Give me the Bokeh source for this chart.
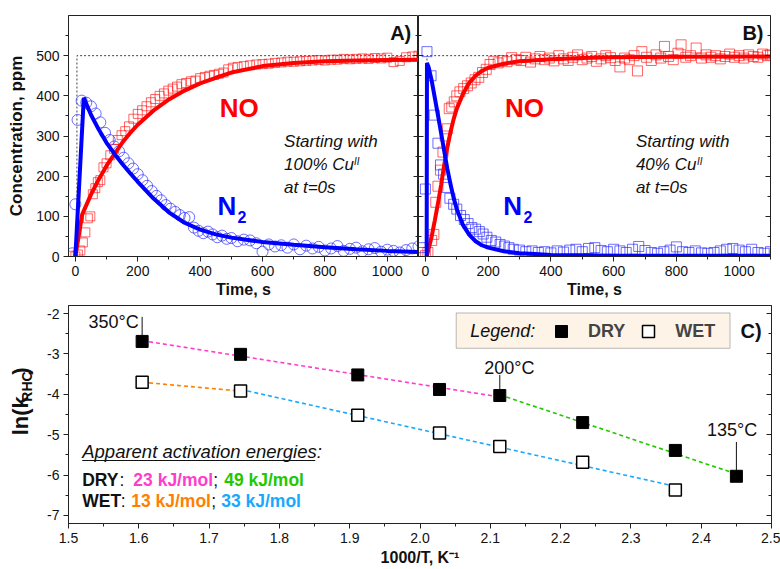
import numpy as np
from bokeh.plotting import figure
from bokeh.layouts import column, row
from bokeh.models import (Label, BoxAnnotation, Legend, LegendItem, LinearAxis, FixedTicker,
                          SingleIntervalTicker, PrintfTickFormatter, CustomJSTickFormatter, Range1d)
from bokeh.embed import file_html
from bokeh.resources import INLINE

FONT = "Liberation Sans"

# ---------------- Panel A data (100% Cu(II) at t=0) ----------------
a_no_t = [-10, 0, 8, 16, 24, 32, 40, 48, 56, 64, 72, 80, 90, 100, 112, 124, 136, 148, 160, 172,
          186, 200, 214, 228, 242, 256, 270, 284, 298, 312, 326, 340, 355, 370, 385, 400, 415, 430, 445, 460,
          475, 490, 505, 520, 540, 560, 580, 600, 620, 640, 660, 680, 700, 720, 740, 760, 780, 800, 820, 840,
          860, 880, 900, 920, 940, 960, 980, 1000, 1020, 1040, 1060, 1080, 1100]
a_no_v = [2, 0, 5, 15, 35, 60, 95, 100, 155, 170, 185, 190, 222, 232, 252, 268, 290, 302, 312, 324,
          343, 355, 364, 374, 384, 392, 400, 406, 413, 418, 423, 429, 432, 436, 438, 444, 447, 450, 452, 455,
          458, 466, 470, 472, 474, 476, 478, 479, 480, 482, 483, 485, 485, 486, 487, 488, 489, 488, 490, 490,
          492, 491, 492, 493, 492, 494, 493, 495, 484, 487, 496, 498, 500]
a_n2_t = [-10, 0, 7, 20, 35, 50, 65, 80, 95, 110, 125, 140, 155, 170, 185, 200, 215, 230, 245, 260,
          275, 290, 305, 320, 335, 350, 365, 380, 395, 410, 425, 440, 455, 470, 485, 500, 520, 540, 560, 580,
          600, 620, 640, 660, 680, 700, 720, 740, 760, 780, 800, 820, 840, 860, 880, 900, 920, 940, 960, 980,
          1000, 1020, 1040, 1060, 1080, 1100]
a_n2_v = [8, 130, 340, 388, 383, 374, 356, 334, 308, 290, 274, 262, 246, 232, 219, 205, 190, 176, 163, 151,
          140, 128, 119, 111, 103, 96, 98, 72, 64, 58, 62, 55, 48, 52, 44, 46, 38, 42, 40, 33,
          12, 30, 25, 28, 22, 30, 18, 27, 20, 24, 15, 20, 26, 14, 19, 22, 13, 18, 21, 12,
          17, 14, 10, 16, 20, 25]
a_no_fit_t = [0, 22, 50, 75, 100, 125, 150, 175, 200, 250, 300, 350, 400, 450, 500, 600, 700, 800, 900, 1000, 1100]
a_no_fit_v = [0, 105, 154, 192, 226, 255, 283, 307, 328, 363, 391, 413, 431, 445, 458, 474, 482, 486, 488, 489, 490]
a_n2_fit_t = [0, 27, 50, 75, 100, 125, 150, 175, 200, 250, 300, 350, 400, 450, 500, 600, 700, 800, 900, 1000, 1100]
a_n2_fit_v = [0, 395, 353, 316, 283, 256, 231, 208, 186, 145, 110, 84, 67, 55, 47, 36, 29, 23, 18, 14, 11]

# ---------------- Panel B data (40% Cu(II) at t=0) ----------------
b_no_t = [0, 8, 20, 27, 33, 40, 48, 56, 63, 70, 76, 84, 92, 100, 110, 122, 134, 146, 158, 170,
          182, 194, 206, 218, 232, 246, 260, 275, 290, 305, 320, 335, 350, 365, 380, 395, 410, 425, 440, 455,
          470, 485, 500, 515, 530, 545, 560, 575, 590, 605, 620, 635, 650, 665, 676, 690, 705, 720, 735, 750,
          762, 775, 790, 805, 815, 830, 845, 863, 880, 895, 910, 925, 940, 955, 970, 985, 1000, 1015, 1030, 1045,
          1060, 1075, 1090, 1100]
b_no_v = [2, 10, 40, 55, 135, 175, 215, 260, 300, 318, 368, 372, 385, 400, 410, 418, 425, 432, 440, 446,
          458, 466, 478, 486, 482, 488, 485, 495, 490, 488, 496, 484, 492, 498, 490, 494, 487, 500, 492, 488,
          496, 502, 490, 494, 498, 486, 492, 500, 495, 488, 472, 494, 490, 500, 462, 510, 496, 488, 502, 494,
          523, 498, 490, 506, 527, 496, 500, 519, 494, 502, 496, 500, 492, 498, 504, 496, 500, 494, 502, 498,
          496, 504, 500, 502]
b_n2_t = [-16, -8, 0, 5, 18, 28, 40, 48, 58, 68, 78, 90, 100, 112, 124, 136, 148, 160, 172, 184,
          196, 210, 224, 238, 252, 266, 280, 300, 320, 340, 360, 380, 400, 420, 440, 460, 480, 500, 520, 540,
          560, 580, 600, 620, 640, 660, 680, 700, 720, 740, 760, 780, 800, 820, 840, 860, 880, 900, 920, 940,
          960, 980, 1000, 1020, 1040, 1060, 1080, 1100]
b_n2_v = [22, 10, 168, 510, 450, 352, 282, 228, 205, 172, 145, 130, 118, 102, 92, 82, 72, 68, 62, 56,
          48, 40, 36, 30, 26, 22, 18, 16, 12, 14, 10, 12, 9, 14, 11, 16, 18, 12, 20, 22,
          15, 12, 18, 14, 10, 18, 25, 15, 10, 8, 12, 16, 24, 12, 10, 14, 9, 8, 10, 14,
          18, 20, 16, 12, 18, 10, 8, 12]
b_no_fit_t = [4, 10, 20, 30, 40, 50, 60, 70, 80, 90, 100, 120, 140, 160, 180, 200, 250, 300, 400, 500, 600, 800, 1100]
b_no_fit_v = [0, 18, 50, 90, 132, 178, 228, 272, 310, 342, 368, 405, 433, 450, 462, 470, 480, 486, 491, 494, 496, 497, 498]
b_n2_fit_t = [4, 5, 10, 20, 30, 40, 50, 60, 70, 80, 90, 100, 120, 140, 160, 180, 200, 250, 300, 350, 400, 500, 600, 800, 1100]
b_n2_fit_v = [0, 482, 472, 438, 395, 352, 308, 262, 218, 180, 146, 118, 78, 54, 38, 28, 22, 13, 8, 6, 4, 3, 2, 2, 2]

feed_ppm = 500      # NO feed level (dotted reference)
feed_step_t = 5     # time of feed switch (s)
conc_ticks = [0, 100, 200, 300, 400, 500]
conc_minor = [50, 150, 250, 350, 450, 550]

# ---------------- Panel C data (Arrhenius) ----------------
temps_dry_C = [350, 300, 250, 220, 200, 175, 150, 135]
lnk_dry = [-2.69, -3.01, -3.52, -3.88, -4.03, -4.70, -5.39, -6.03]
temps_wet_C = [350, 300, 250, 220, 200, 175, 150]
lnk_wet = [-3.70, -3.92, -4.52, -4.96, -5.29, -5.68, -6.37]

inv_dry = [1000.0 / (t + 273.15) for t in temps_dry_C]
inv_wet = [1000.0 / (t + 273.15) for t in temps_wet_C]

RED = "#ff0000"
BLUE = "#0000ff"
AX = "#222222"
BLANK = CustomJSTickFormatter(code="return ''")


def style_axis(ax, label_px="16px", tick_px="14px"):
    ax.axis_line_color = AX
    ax.major_tick_line_color = AX
    ax.minor_tick_line_color = AX
    ax.major_label_text_font = FONT
    ax.major_label_text_font_size = tick_px
    ax.major_label_text_color = "#111111"
    ax.axis_label_text_font = FONT
    ax.axis_label_text_font_style = "bold"
    ax.axis_label_text_font_size = label_px
    ax.axis_label_text_color = "#111111"
    ax.major_tick_out = 5
    ax.major_tick_in = 0
    ax.minor_tick_out = 3
    ax.minor_tick_in = 0
    ax.major_label_standoff = 4


def inner_style(ax):
    ax.axis_line_color = AX
    ax.major_tick_line_color = AX
    ax.minor_tick_line_color = AX
    ax.formatter = BLANK
    ax.major_label_standoff = 0
    ax.major_tick_in = 5
    ax.major_tick_out = 0
    ax.minor_tick_in = 3
    ax.minor_tick_out = 0
    ax.axis_label = None


def txt(p, x, y, text, size, color="#111111", style="normal", align="left", baseline="middle", angle=0.0):
    p.add_layout(Label(x=x, y=y, text=text, text_font=FONT, text_font_size=f"{size}px",
                       text_color=color, text_font_style=style, text_align=align,
                       text_baseline=baseline, angle=angle))


def make_fig(width, left, right):
    p = figure(width=width, height=300, x_range=Range1d(-22, 1100), y_range=Range1d(0, 600),
               output_backend="svg", toolbar_location=None,
               min_border_left=left, min_border_right=right, min_border_top=15, min_border_bottom=40)
    p.xgrid.visible = False
    p.ygrid.visible = False
    p.outline_line_color = AX
    p.xaxis.ticker = SingleIntervalTicker(interval=200, num_minor_ticks=2)
    p.yaxis.ticker = FixedTicker(ticks=conc_ticks, minor_ticks=conc_minor)
    style_axis(p.xaxis[0])
    style_axis(p.yaxis[0], label_px="17px")
    p.xaxis.axis_label = "Time, s"
    p.xaxis.axis_label_standoff = 2
    ra = LinearAxis(ticker=FixedTicker(ticks=conc_ticks, minor_ticks=conc_minor))
    inner_style(ra)
    p.add_layout(ra, "right")
    return p


# ---------------- Panel A ----------------
pA = make_fig(418, 68, 0)
pA.yaxis[0].axis_label = "Concentration, ppm"
pA.yaxis[0].axis_label_standoff = 7
pA.line([feed_step_t, feed_step_t, 1100], [0, feed_ppm, feed_ppm], line_color="#444444",
        line_dash="2 2", line_width=1)
pA.scatter(a_no_t, a_no_v, marker="square", size=9, fill_alpha=0, line_color=RED, line_alpha=0.6, line_width=1)
pA.scatter(a_n2_t, a_n2_v, marker="circle", size=11, fill_alpha=0, line_color="#2020ff", line_alpha=0.65, line_width=1)
pA.line(a_no_fit_t, a_no_fit_v, line_color=RED, line_width=4)
pA.line(a_n2_fit_t, a_n2_fit_v, line_color=BLUE, line_width=4)
txt(pA, 525, 370, "NO", 26, RED, "bold", "center")
txt(pA, 486, 125, "N", 26, BLUE, "bold", "center")
txt(pA, 534, 98, "2", 16, BLUE, "bold", "center")
txt(pA, 669, 287, "Starting with", 17, style="italic")
txt(pA, 669, 228, "100% Cu", 17, style="italic")
txt(pA, 893, 237, "II", 10, style="italic")
txt(pA, 669, 172, "at t=0s", 17, style="italic")
txt(pA, 1043, 556, "A)", 20, style="bold", align="center")

# ---------------- Panel B ----------------
pB = make_fig(362, 0, 10)
inner_style(pB.yaxis[0])
pB.line([feed_step_t, feed_step_t, 1100], [0, feed_ppm, feed_ppm], line_color="#444444",
        line_dash="2 2", line_width=1)
pB.scatter(b_no_t, b_no_v, marker="square", size=10, fill_alpha=0, line_color=RED, line_alpha=0.6, line_width=1)
pB.scatter(b_n2_t, b_n2_v, marker="square", size=10, fill_alpha=0, line_color="#2020ff", line_alpha=0.65, line_width=1)
pB.line(b_no_fit_t, b_no_fit_v, line_color=RED, line_width=4)
pB.line(b_n2_fit_t, b_n2_fit_v, line_color=BLUE, line_width=4)
txt(pB, 316, 370, "NO", 26, RED, "bold", "center")
txt(pB, 278, 125, "N", 26, BLUE, "bold", "center")
txt(pB, 327, 98, "2", 16, BLUE, "bold", "center")
txt(pB, 671, 287, "Starting with", 17, style="italic")
txt(pB, 671, 228, "40% Cu", 17, style="italic")
txt(pB, 866, 237, "II", 10, style="italic")
txt(pB, 671, 172, "at t=0s", 17, style="italic")
txt(pB, 1044, 556, "B)", 20, style="bold", align="center")

# ---------------- Panel C y-label strip ----------------
pL = figure(width=40, height=269, x_range=Range1d(0, 40), y_range=Range1d(0, 269),
            output_backend="svg", toolbar_location=None, x_axis_location=None, y_axis_location=None,
            min_border_left=0, min_border_right=0, min_border_top=0, min_border_bottom=0)
pL.xgrid.visible = False
pL.ygrid.visible = False
pL.outline_line_color = None
ang = np.pi / 2
txt(pL, 20, 133, "ln(k", 22, style="bold", align="center", angle=ang)
txt(pL, 26, 169, "RHC", 14, style="bold", align="center", angle=ang)
txt(pL, 20, 188, ")", 22, style="bold", align="center", angle=ang)

# ---------------- Panel C ----------------
pC = figure(width=740, height=269, x_range=Range1d(1.5, 2.5), y_range=Range1d(-7.2, -1.8),
            output_backend="svg", toolbar_location=None,
            min_border_left=28, min_border_right=9, min_border_top=5, min_border_bottom=46)
pC.xgrid.visible = False
pC.ygrid.visible = False
pC.outline_line_color = AX
pC.xaxis.ticker = SingleIntervalTicker(interval=0.1, num_minor_ticks=2)
pC.xaxis.formatter = PrintfTickFormatter(format="%.1f")
pC.yaxis.ticker = SingleIntervalTicker(interval=1, num_minor_ticks=2)
pC.yaxis.formatter = PrintfTickFormatter(format="%d")
style_axis(pC.xaxis[0], label_px="16px")
style_axis(pC.yaxis[0])
pC.xaxis.axis_label = "1000/T, K\u207b\u00b9"
pC.xaxis.axis_label_standoff = 3
rC = LinearAxis(ticker=SingleIntervalTicker(interval=1, num_minor_ticks=2))
inner_style(rC)
pC.add_layout(rC, "right")


def fit_line(xs, ys, color):
    k, b = np.polyfit(xs, ys, 1)
    xx = np.array([xs[0], xs[-1]])
    pC.line(xx, k * xx + b, line_color=color, line_width=1.6, line_dash="4 3")


PINK, GREEN, ORANGE, CYAN = "#ff3dcc", "#22c800", "#ff8000", "#1aa8ff"
fit_line(inv_dry[0:5], lnk_dry[0:5], PINK)
fit_line(inv_dry[4:8], lnk_dry[4:8], GREEN)
fit_line(inv_wet[0:2], lnk_wet[0:2], ORANGE)
fit_line(inv_wet[1:7], lnk_wet[1:7], CYAN)

# leader lines for temperature labels
lead_idx = [0, 4, 7]
lead_top = [-2.08, -3.52, -5.18]
pC.segment(x0=[inv_dry[i] for i in lead_idx], y0=[lnk_dry[i] for i in lead_idx],
           x1=[inv_dry[i] for i in lead_idx], y1=lead_top, line_color="#111111", line_width=1)

r_dry = pC.scatter(inv_dry, lnk_dry, marker="square", size=12, fill_color="#000000", line_color="#000000", line_width=1)
r_wet = pC.scatter(inv_wet, lnk_wet, marker="square", size=12, fill_color="#ffffff", line_color="#000000", line_width=1.5)

txt(pC, 1.600, -2.21, "350\u00b0C", 18, align="right")
txt(pC, 2.127, -3.34, "200\u00b0C", 18, align="center")
txt(pC, 2.444, -4.89, "135\u00b0C", 18, align="center")

# legend box
pC.add_layout(BoxAnnotation(left=2.0515, right=2.441, top=-1.985, bottom=-2.86,
                            fill_color="#fdf3e7", fill_alpha=1.0, line_color=AX, line_width=1))
txt(pC, 2.0714, -2.43, "Legend:", 18, style="italic")
legend = Legend(items=[LegendItem(label="DRY", renderers=[r_dry]), LegendItem(label="WET", renderers=[r_wet])],
                orientation="horizontal", location=(478, 177), glyph_width=30, glyph_height=30,
                label_standoff=12, spacing=8, padding=0, margin=0,
                background_fill_alpha=0, border_line_alpha=0,
                label_text_font=FONT, label_text_font_size="18px", label_text_font_style="bold")
pC.add_layout(legend, "center")
txt(pC, 2.471, -2.42, "C)", 20, style="bold", align="center")

# activation energy notes
txt(pC, 1.5195, -5.41, "Apparent activation energies:", 18.5, style="italic")
pC.segment(x0=[1.5195], y0=[-5.64], x1=[1.851], y1=[-5.64], line_color="#111111", line_width=1.2)
y2, y3 = -6.118, -6.655
txt(pC, 1.5195, y2, "DRY", 17.5, style="bold")
txt(pC, 1.5725, y2, ":", 17.5)
txt(pC, 1.5922, y2, "23 kJ/mol", 17.5, PINK, "bold")
txt(pC, 1.7058, y2, ";", 17.5)
txt(pC, 1.7215, y2, "49 kJ/mol", 17.5, GREEN, "bold")
txt(pC, 1.5195, y3, "WET", 17.5, style="bold")
txt(pC, 1.5745, y3, ":", 17.5)
txt(pC, 1.5892, y3, "13 kJ/mol", 17.5, ORANGE, "bold")
txt(pC, 1.7030, y3, ";", 17.5)
txt(pC, 1.7172, y3, "33 kJ/mol", 17.5, CYAN, "bold")

layout = column(row(pA, pB), row(pL, pC))
open("out.html", "w").write(file_html(layout, INLINE))
